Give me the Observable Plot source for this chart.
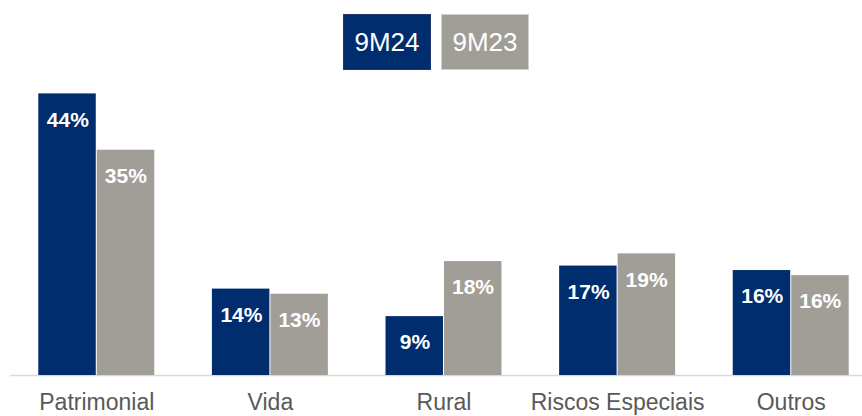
<!DOCTYPE html>
<html>
<head>
<meta charset="utf-8">
<script src="https://cdn.jsdelivr.net/npm/d3@7"></script>
<script src="https://cdn.jsdelivr.net/npm/@observablehq/plot@0.6"></script>
<style>
  html, body { margin: 0; padding: 0; background: #fff; }
  body { width: 862px; height: 416px; overflow: hidden; font-family: "Liberation Sans", Arial, sans-serif; }
  #legend { position: relative; height: 84px; width: 862px; }
  .key { position: absolute; top: 14px; width: 86px; height: 54px; color: #fff; font-size: 26px;
         display: flex; align-items: center; justify-content: center; }
  #chart svg { display: block; }
</style>
</head>
<body>
<div id="legend"></div>
<div id="chart"></div>
<script>
const categories = ["Patrimonial", "Vida", "Rural", "Riscos Especiais", "Outros"];
const seriesNames = ["9M24", "9M23"];
const values9M24 = [44.0, 13.5, 9.2, 17.1, 16.4];
const values9M23 = [35.2, 12.7, 17.8, 19.0, 15.6];
const labels9M24 = ["44%", "14%", "9%", "17%", "16%"];
const labels9M23 = ["35%", "13%", "18%", "19%", "16%"];
const colors = ["#002D6E", "#A19D97"];
const borders = ["#24366a", "#d4d2cf"];

const rows24 = categories.map((c, i) => ({category: c, value: values9M24[i], label: labels9M24[i]}));
const rows23 = categories.map((c, i) => ({category: c, value: values9M23[i], label: labels9M23[i]}));

// legend
const legend = document.getElementById("legend");
const keyLeft = [343, 441];
seriesNames.forEach((s, i) => {
  const d = document.createElement("div");
  d.className = "key";
  d.style.left = keyLeft[i] + "px";
  d.style.background = colors[i];
  d.style.border = "1px solid " + borders[i];
  d.textContent = s;
  legend.appendChild(d);
});

const half = 58.5;
const chart = Plot.plot({
  width: 862,
  height: 332,
  marginTop: 3,
  marginBottom: 41,
  marginLeft: 10,
  marginRight: 0,
  style: {fontFamily: "'Liberation Sans', Arial, sans-serif", background: "#fff"},
  x: {domain: categories, range: [10, 877], paddingInner: 0.332, paddingOuter: 0.163, round: false, label: null},
  y: {domain: [0, 45], axis: null},
  marks: [
    Plot.ruleY([0], {stroke: "#d9d9d9", strokeWidth: 1.5}),
    Plot.barY(rows24, {x: "category", y: "value", fill: colors[0], insetRight: half}),
    Plot.barY(rows23, {x: "category", y: "value", fill: colors[1], insetLeft: half}),
    Plot.text(rows24, {x: "category", y: "value", text: "label", dx: -29, dy: 26, fill: "#fff", fontWeight: "bold", fontSize: 21}),
    Plot.text(rows23, {x: "category", y: "value", text: "label", dx: 29, dy: 26, fill: "#fff", fontWeight: "bold", fontSize: 21}),
    Plot.axisX({tickSize: 0, tickPadding: 18, fontSize: 23, color: "#595959", label: null})
  ]
});
document.getElementById("chart").appendChild(chart);
</script>
</body>
</html>
